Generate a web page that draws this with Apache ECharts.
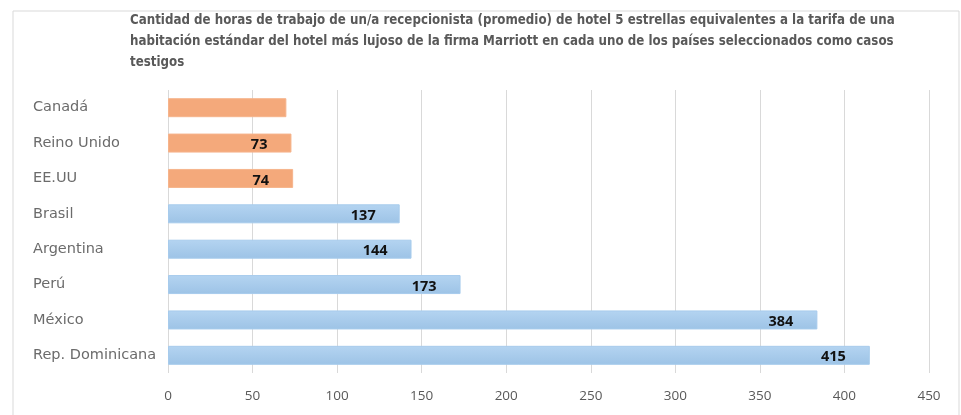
<!DOCTYPE html>
<html>
<head>
<meta charset="utf-8">
<script src="https://cdn.jsdelivr.net/npm/echarts@6/dist/echarts.min.js"></script>
<style>
html,body{margin:0;padding:0;background:#fff;}
#chart{width:961px;height:415px;}
</style>
</head>
<body>
<div id="chart"></div>
<script>
var paises = ['Canadá', 'Reino Unido', 'EE.UU', 'Brasil', 'Argentina', 'Perú', 'México', 'Rep. Dominicana'];
var horas = [70, 73, 74, 137, 144, 173, 384, 415];
var conEtiqueta = [false, true, true, true, true, true, true, true];
var naranja = ['Canadá', 'Reino Unido', 'EE.UU'];
var ticksX = [0, 50, 100, 150, 200, 250, 300, 350, 400, 450];

var titulo = 'Cantidad de horas de trabajo de un/a recepcionista (promedio) de hotel 5 estrellas equivalentes a la tarifa de una\n' +
    'habitación estándar del hotel más lujoso de la firma Marriott en cada uno de los países seleccionados como casos\n' +
    'testigos';

var azul = new echarts.graphic.LinearGradient(0, 0, 0, 1, [
    {offset: 0, color: '#b4d4f1'},
    {offset: 1, color: '#9dc3e6'}
]);

var datos = paises.map(function(p, i){
    var esNaranja = naranja.indexOf(p) >= 0;
    return {
        value: horas[i],
        itemStyle: {
            color: esNaranja ? '#f4a97b' : azul,
            borderColor: esNaranja ? '#f6b48c' : '#a7cbec',
            borderWidth: 1
        },
        label: {show: conEtiqueta[i]}
    };
});

var chart = echarts.init(document.getElementById('chart'));
chart.setOption({
    animation: false,
    backgroundColor: '#fff',
    graphic: [{
        type: 'rect',
        shape: {x: 13, y: 11, width: 946, height: 410},
        style: {fill: 'none', stroke: '#d9d9d9', lineWidth: 1}
    }],
    title: {
        text: titulo,
        left: 125,
        top: 5,
        textStyle: {
            fontFamily: 'DejaVu Sans Condensed',
            fontWeight: 'bold',
            fontSize: 13.2,
            color: '#595959',
            lineHeight: 21
        }
    },
    grid: {left: 168, right: 32, top: 90, bottom: 42, containLabel: false},
    xAxis: {
        type: 'value',
        min: 0,
        max: 450,
        interval: 50,
        axisLine: {show: false},
        axisTick: {show: false},
        splitLine: {lineStyle: {color: '#d9d9d9', width: 1}},
        axisLabel: {
            color: '#595959',
            fontFamily: 'Open Sans',
            fontSize: 13.5,
            margin: 16,
            formatter: function(v){ return ticksX.indexOf(v) >= 0 ? String(v) : ''; }
        }
    },
    yAxis: {
        type: 'category',
        data: paises,
        inverse: true,
        axisLine: {show: false},
        axisTick: {show: false},
        axisLabel: {
            color: '#6b6b6b',
            fontFamily: 'DejaVu Sans',
            fontSize: 14.5,
            align: 'left',
            margin: 135
        }
    },
    series: [{
        type: 'bar',
        data: datos,
        barWidth: 19,
        label: {
            position: 'insideRight',
            distance: 24,
            offset: [0, 2],
            color: '#111',
            fontFamily: 'Open Sans',
            fontWeight: 'bold',
            fontSize: 14.5
        }
    }]
});
</script>
</body>
</html>
